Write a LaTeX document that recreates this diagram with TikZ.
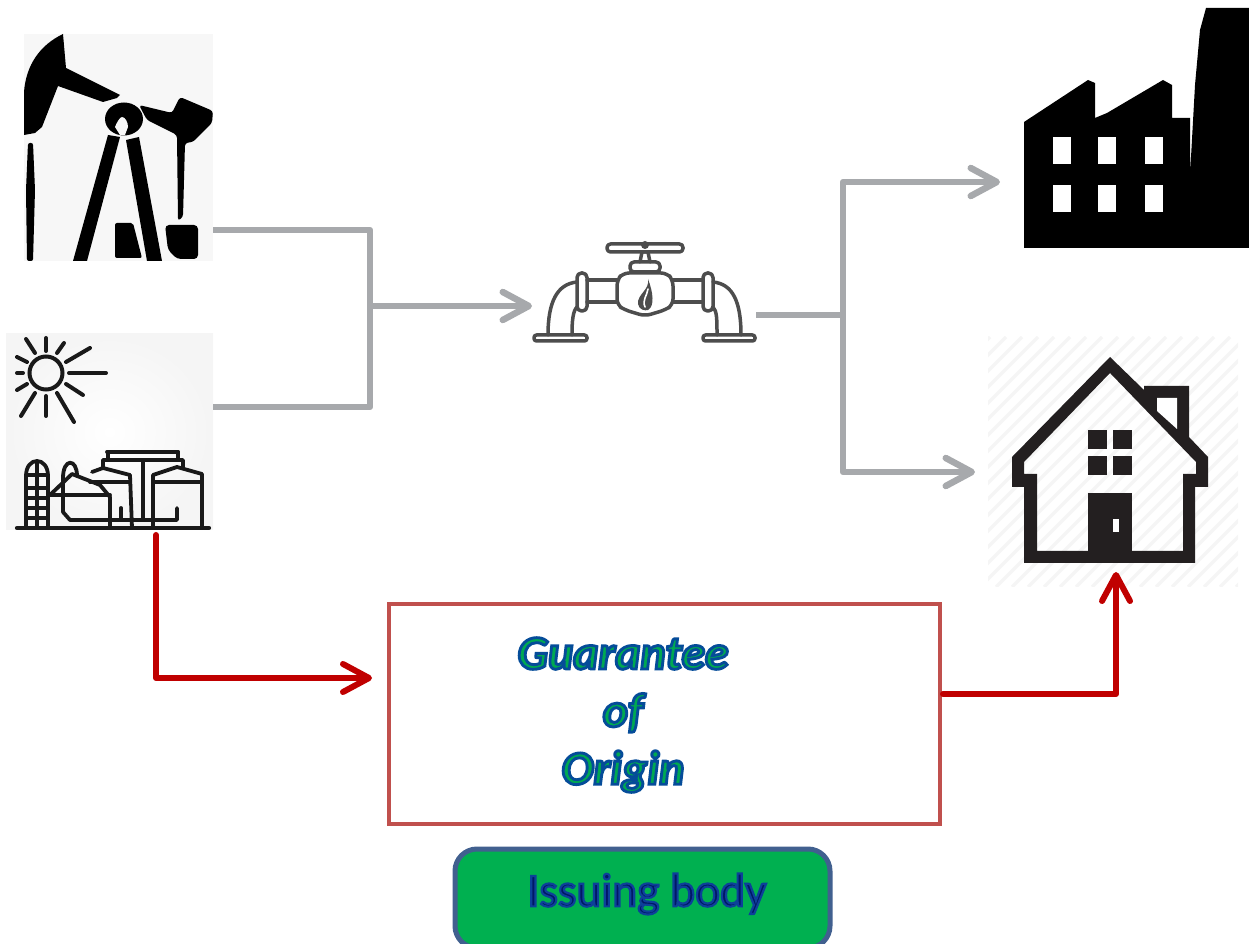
\documentclass[tikz,border=0pt]{standalone}
\usepackage{fontspec}
\setmainfont{Carlito}
\newfontfamily\headfont[FakeBold=4.5]{Carlito}
\newfontfamily\certfont[UprightFont={* Bold Italic},FakeBold=6]{Carlito}
\usetikzlibrary{arrows.meta,positioning}
\definecolor{flowgray}{HTML}{A7A9AC}
\definecolor{flowred}{HTML}{C00000}
\definecolor{certline}{HTML}{C0504D}
\definecolor{issuerline}{HTML}{41608F}
\definecolor{issuerfill}{HTML}{00B050}
\definecolor{valveink}{HTML}{4D4D4D}
\definecolor{homeink}{HTML}{231F20}
\tikzset{
  iconbox/.style={inner sep=0pt,outer sep=0pt,minimum width=#1},
  grayflow/.style={draw=flowgray,line width=.65mm,line join=round},
  redflow/.style={draw=flowred,line width=.6mm,line join=round,line cap=round},
  barb/.style={-{Straight Barb[length=2.6mm,width=2.8mm,round]}},
  valveline/.style={draw=valveink,line width=.35mm,line cap=round,line join=round,fill=white},
  ray/.style={line width=.4mm,line cap=round,draw=black!90},
  plant/.style={line width=.38mm,line cap=round,line join=round,draw=black!90},
}
\begin{document}
\begin{tikzpicture}[x=.1mm,y=-.1mm]
    \useasboundingbox (0,0) rectangle (1249,944);
    \node[iconbox=18.9mm,minimum height=22.7mm,fill=black!3] (well) at (118.5,147.5) {};
    \node[iconbox=20.7mm,minimum height=19.6mm,inner color=white,outer color=black!4] (biogas) at (109.5,432) {};
    \node[iconbox=22.4mm,minimum height=10.5mm] (valve) at (644,292.5) {};
    \node[iconbox=24.9mm,minimum height=24mm] (factory) at (1124.5,128) {};
    \node[iconbox=25mm,minimum height=25mm] (home) at (1113,462) {};
    \node[iconbox=55.1mm,minimum height=22mm,draw=certline,line width=.35mm] (certbox) at (664.5,714) {};
    \node[iconbox=37.5mm,minimum height=9.9mm,draw=issuerline,fill=issuerfill,line width=.5mm,rounded corners=2.2mm] (issuer) at (642.5,898.5) {};
    \node[inner sep=0pt,font=\headfont\fontsize{13.5pt}{13.5pt}\selectfont] (issuertext) at (647,894)
      {\special{pdf:bcolor [0 0.1 0.4] [0.05 0.25 0.6]}Issuing body\special{pdf:ecolor}};
    \node[inner sep=0pt,align=center,font=\certfont\fontsize{13.6pt}{16.4pt}\selectfont] (certtext) at (623,715)
      {\special{pdf:bcolor [0 0.66 0.32] [0.02 0.3 0.6]}Guarantee\\of\\Origin\special{pdf:ecolor}};

    \fill (63,34) -- (66,68) -- (120,95) -- (117,98) -- (103,102) -- (58,86) -- (42,127)
      -- (35,133) -- (24,135) -- (24,92) .. controls (26,65) and (40,45) .. (63,34) -- cycle;
    \fill[rounded corners=.2mm] (28,143) -- (33,143) -- (35,190) -- (33,261) -- (27,261) -- (26,190) -- cycle;
    \fill (108,135) -- (120,137) -- (87,261) -- (73,261) -- cycle;
    \fill (126,140) -- (139,137) -- (162,261) -- (147,261) -- cycle;
    \fill (124,119) ellipse (19 and 16.5);
    \fill[black!3] (115,127) .. controls (117,122) and (120,117) .. (122,117) .. controls (125,117) and (128,122) .. (128,127)
      -- (125,135) -- (120,135) -- cycle;
    \fill[rounded corners=.3mm] (139,105) -- (172,113) -- (180,97) -- (213,111) -- (212,123) -- (200,135) -- (193,142)
      -- (185,143) -- (183,217) -- (178,221) -- (177,135) -- (147,120) -- cycle;
    \fill[rounded corners=.2mm] (115,223) -- (133,223) -- (142,258) -- (115,258) -- cycle;
    \fill[rounded corners=.4mm] (165,225) -- (198,225) -- (198,259) -- (177,259) -- (168,250) -- cycle;

    \draw[ray] (46,373) circle (16.5);
    \foreach \xa/\ya/\xb/\yb in {46/338/46/351,26/339/35/353,57/353/64/343,66/362/90/348,69/373/106/373,66/384/83/395,
      57/393/74/422,46/396/46/416,35/393/21/416,27/384/17/390,17/373/23/373,17/357/27/362}
      \draw[ray] (\xa,\ya) -- (\xb,\yb);

    \begin{scope}[plant]
    \draw[line width=.42mm] (17,528) -- (209,528);
    \draw (26,528) -- (26,476) .. controls (26,456) and (48,456) .. (48,476) -- (48,528);
    \draw (37,463) -- (37,528);
    \foreach \rung in {475,488,498,508,518}
      \draw (26,\rung) -- (48,\rung);
    \draw (50,495) -- (72,474) -- (100,485) -- (110,497) -- (110,528);
    \draw (50,495) -- (110,495);
    \draw (63,478) -- (63,512) -- (70,520) -- (177,520) -- (177,508);
    \draw (63,478) .. controls (63,458) and (77,458) .. (77,476);
    \draw (92,472) -- (103,468) -- (130,475) -- (132,528);
    \draw (90,482) -- (130,482);
    \draw (103,468) -- (103,460) -- (183,460) -- (183,467);
    \draw (107,452) -- (178,452);
    \draw (108,452) -- (108,460);
    \draw (178,452) -- (178,460);
    \draw (143,462) -- (143,520);
    \draw (121,508) -- (121,520);
    \draw (153,528) -- (153,475) -- (177,467) -- (202,474) -- (202,528);
    \draw (155,482) -- (202,482);
    \end{scope}

    \begin{scope}[valveline]
    \draw[rounded corners=.35mm] (607,244) rectangle (683,252);
    \fill[valveink] (645,245) circle (4);
    \draw (640,262) -- (642,252) -- (648,252) -- (650,262);
    \draw[rounded corners=.4mm] (630,262) rectangle (660,272);
    \draw (587,280) -- (617,280);
    \draw (587,302) -- (617,302);
    \draw (673,280) -- (703,280);
    \draw (673,302) -- (703,302);
    \draw[rounded corners=.6mm] (617,280) -- (623,273) -- (667,273) -- (673,280) -- (673,305) -- (665,310)
      -- (645,316) -- (625,310) -- (617,305) -- cycle;
    \draw (577,282) .. controls (557,284) and (548,302) .. (548,335);
    \draw (577,307) .. controls (573,311) and (572,320) .. (572,335);
    \draw (713,282) .. controls (733,284) and (741,302) .. (741,335);
    \draw (713,307) .. controls (717,311) and (717,320) .. (717,335);
    \draw[rounded corners=.45mm] (577,273) rectangle (587,311);
    \draw[rounded corners=.45mm] (703,273) rectangle (713,311);
    \draw[rounded corners=.25mm] (534,335) rectangle (587,341);
    \draw[rounded corners=.25mm] (703,335) rectangle (755,341);
    \fill[valveink] (648,279) .. controls (650,290) and (637,294) .. (638,304) .. controls (639,310) and (645,311) .. (648,310)
      .. controls (655,306) and (653,292) .. (648,279) -- cycle;
    \draw[white,line width=.16mm] (648,289) .. controls (647,296) and (642,300) .. (645,307);
    \end{scope}

    \fill[black] (1024,122) -- (1088,80) -- (1095,83) -- (1095,118) -- (1107,113) -- (1163,80) -- (1172,85) -- (1172,118)
      -- (1190,118) -- (1190,175) -- (1195,85) -- (1200,30) -- (1206,8) -- (1249,8) -- (1249,248) -- (1024,248) -- cycle;
    \foreach \wx in {1053,1098,1145}
      \foreach \wy/\wh in {137/27,185/27}
        \fill[white] (\wx,\wy) rectangle ++(18,\wh);

    \begin{scope}
    \clip (988,337) rectangle (1238,587);
    \foreach \hx in {740,756,...,1240}
      \draw[black!4,line width=.35mm] (\hx,587) -- (\hx+250,337);
    \end{scope}
    \fill[homeink,even odd rule] (1110,357) -- (1144,390) -- (1144,386) -- (1189,386) -- (1189,437) -- (1208,457)
      -- (1208,487) -- (1195,487) -- (1195,563) -- (1024,563) -- (1024,487) -- (1012,487) -- (1012,457) -- cycle
      (1110,373) -- (1196,462) -- (1196,474) -- (1183,474) -- (1183,551) -- (1037,551) -- (1037,474) -- (1024,474)
      -- (1024,462) -- cycle;
    \fill[white] (1157,398) -- (1177,398) -- (1177,429) -- (1157,411) -- cycle;
    \foreach \wx/\wy in {1088/430,1113/430,1088/456,1113/456}
      \fill[homeink] (\wx,\wy) rectangle ++(19,19);
    \fill[homeink] (1088,493) rectangle (1132,551);
    \fill[white] (1113,519) rectangle (1119,532);

    \coordinate (joinup) at (370,230);
    \coordinate (joindown) at (370,407);
    \coordinate (joinmid) at (370,306);
    \coordinate (split) at (843,315);
    \coordinate (splitup) at (843,182);
    \coordinate (splitdown) at (843,472);
    \coordinate (redstart) at (156,678);
    \coordinate (redout) at (940,694);
    \coordinate (hometip) at (1116,572);

    \draw[grayflow] (well.east |- joinup) -- (joinup) -- (joindown) -- (biogas.east |- joindown);
    \draw[grayflow,barb] (joinmid) -- (valve.west |- joinmid);
    \draw[grayflow] (valve.east |- split) -- (split);
    \draw[grayflow,barb] (split) -- (splitup) -- (factory.west |- splitup);
    \draw[grayflow,barb,shorten >=1.3mm] (split) -- (splitdown) -- (home.west |- splitdown);
    \draw[redflow,barb,shorten >=1.7mm,shorten <=.5mm] (biogas.south -| redstart) -- (redstart) -- (certbox.west |- redstart);
    \draw[redflow,barb,shorten <=.3mm] (certbox.east |- redout) -| (hometip);
\end{tikzpicture}
\end{document}
